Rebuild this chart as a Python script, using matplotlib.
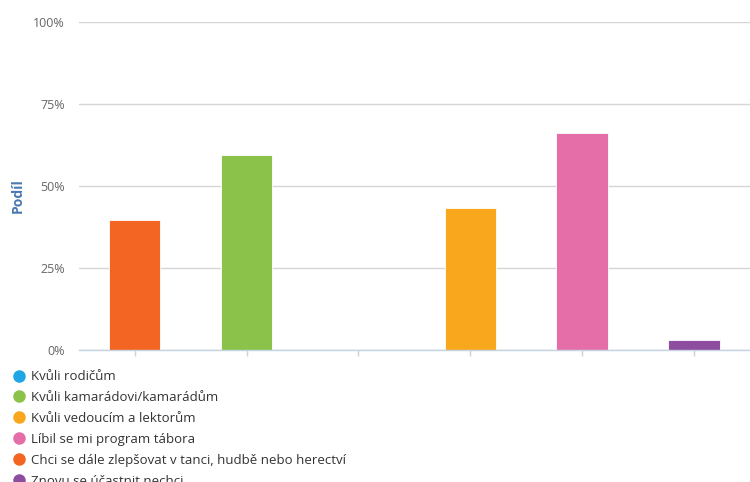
import matplotlib
matplotlib.use("Agg")
import matplotlib.pyplot as plt
from matplotlib.lines import Line2D
from matplotlib.ticker import PercentFormatter

# bar order on the x axis
categories = [
    "Chci se dále zlepšovat v tanci, hudbě nebo herectví",
    "Kvůli kamarádovi/kamarádům",
    "Kvůli rodičům",
    "Kvůli vedoucím a lektorům",
    "Líbil se mi program tábora",
    "Znovu se účastnit nechci",
]
values = [39.5, 59.4, 0.0, 43.1, 66.2, 3.0]
colors = ["#f26522", "#8bc34a", "#1ea7e4", "#f9a71c", "#e56ea9", "#8e4e9f"]

# legend order
legend_order = [2, 1, 3, 4, 0, 5]
y_ticks = [0, 25, 50, 75, 100]

plt.rcParams["font.family"] = ["Open Sans", "DejaVu Sans"]

fig = plt.figure(figsize=(7.5, 4.82), dpi=100)
ax = fig.add_axes([0.105, 0.274, 0.895, 0.681])

x = list(range(len(categories)))
ax.bar(x, values, width=0.46, color=colors, edgecolor="white", linewidth=0.6, zorder=3)

ax.set_xlim(-0.5, len(categories) - 0.5)
ax.set_ylim(0, 100)
ax.set_yticks(y_ticks)
ax.yaxis.set_major_formatter(PercentFormatter(decimals=0))
ax.grid(axis="y", color="#d6d6d6", linewidth=1.0, zorder=0)
ax.set_axisbelow(True)

for side in ["top", "right", "left"]:
    ax.spines[side].set_visible(False)
ax.spines["bottom"].set_color("#c6d3e3")
ax.spines["bottom"].set_linewidth(1.0)
ax.spines["bottom"].set_zorder(4)

ax.set_xticks(x)
ax.set_xticklabels([])
ax.tick_params(axis="x", length=4, color="#c6d3e3", width=1)
ax.tick_params(axis="y", length=0, pad=10, labelsize=9, labelcolor="#666666")

ax.set_ylabel("Podíl", color="#4a78b0", fontsize=10, fontweight="bold")
ax.yaxis.set_label_coords(-0.08, 0.47)

handles = [
    Line2D([], [], linestyle="none", marker="o", markersize=8,
           markerfacecolor=colors[i], markeredgecolor=colors[i])
    for i in legend_order
]
labels = [categories[i] for i in legend_order]
fig.legend(handles, labels, loc="upper left", bbox_to_anchor=(0.018, 0.232),
           frameon=False, fontsize=9.5, labelcolor="#333333",
           handlelength=0.8, handletextpad=0.5, labelspacing=0.6,
           borderaxespad=0, borderpad=0)

fig.savefig("out.png", dpi=100)
